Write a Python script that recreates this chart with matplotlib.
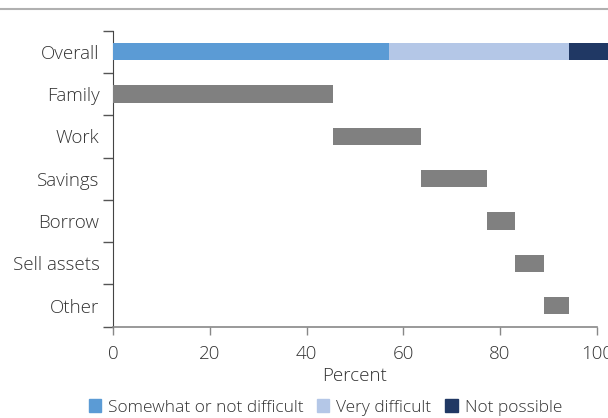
import numpy as np
import matplotlib.pyplot as plt
from matplotlib.patches import Patch
from matplotlib.lines import Line2D

plt.rcParams['font.family'] = ['Open Sans', 'DejaVu Sans']

categories = ['Overall', 'Family', 'Work', 'Savings', 'Borrow', 'Sell assets', 'Other']

# Overall split (percent)
overall_labels = ['Somewhat or not difficult', 'Very difficult', 'Not possible']
overall_values = [57.1, 37.2, 8.0]
overall_colors = ['#5b9bd5', '#b4c7e7', '#203864']

# coping sources, cumulative waterfall (percent)
source_values = [45.5, 18.1, 13.8, 5.6, 6.0, 5.3]

fig = plt.figure(figsize=(6.08, 4.18), dpi=100)
ax = fig.add_axes([0.1864, 0.2184, 0.795, 0.7082])

y = np.arange(len(categories))
h = 0.41

left = 0
for v, c in zip(overall_values, overall_colors):
    ax.barh(y[0], v, left=left, height=h, color=c, clip_on=False, zorder=3)
    left += v

left = 0
for i, v in enumerate(source_values):
    ax.barh(y[i + 1], v, left=left, height=h, color='#808080', zorder=3)
    left += v

ax.set_xlim(0, 100)
ax.set_ylim(len(categories) - 0.5, -0.5)
ax.set_xticks([0, 20, 40, 60, 80, 100])
ax.set_yticks(y)
ax.set_yticklabels(categories)
ax.set_yticks(np.arange(-0.5, len(categories)), minor=True)
ax.tick_params(axis='y', which='major', length=0, pad=10, labelsize=13.5, labelcolor='#333333')
ax.tick_params(axis='y', which='minor', length=7, color='#555555', width=1)
ax.tick_params(axis='x', length=6, color='#888888', width=1, labelsize=13.5, labelcolor='#333333', pad=7)
for lab in ax.get_yticklabels() + ax.get_xticklabels():
    lab.set_fontweight('light')

ax.spines['top'].set_visible(False)
ax.spines['right'].set_visible(False)
ax.spines['left'].set_color('#444444')
ax.spines['bottom'].set_color('#888888')
ax.spines['bottom'].set_linewidth(1.2)

ax.set_xlabel('Percent', fontsize=13.5, color='#333333', fontweight='light', labelpad=3)

handles = [Patch(color=c, label=l) for c, l in zip(overall_colors, overall_labels)]
leg = fig.legend(handles=handles, loc='center', bbox_to_anchor=(0.535, 0.025), ncol=3,
                 frameon=False, handlelength=0.7, handleheight=0.7, handletextpad=0.4,
                 columnspacing=0.8, prop={'size': 12.5, 'weight': 'light'})
for t in leg.get_texts():
    t.set_color('#333333')

fig.add_artist(Line2D([0, 1], [0.978, 0.978], color='#b0b0b0', linewidth=1.5,
                      transform=fig.transFigure))

fig.savefig('out.png', dpi=100)
